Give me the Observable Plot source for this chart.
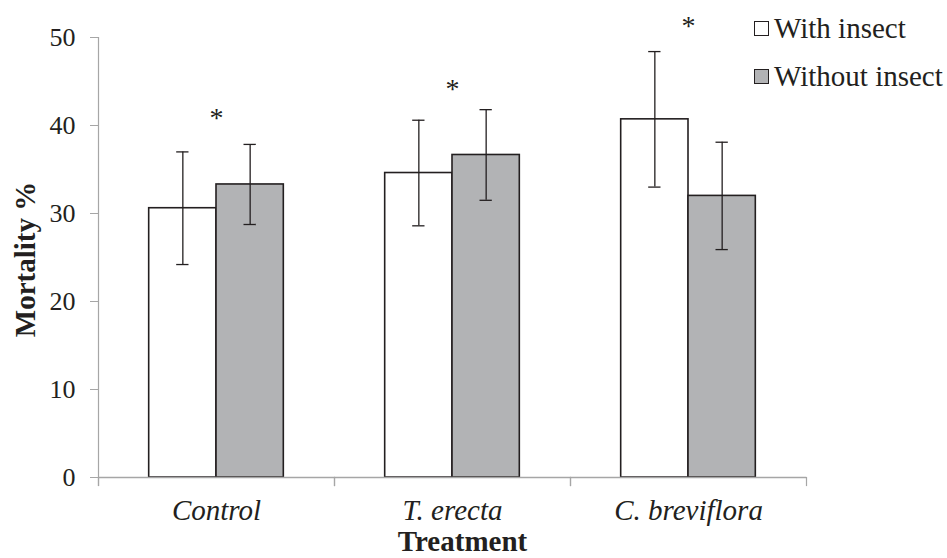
<!DOCTYPE html>
<html>
<head>
<meta charset="utf-8">
<script src="https://cdn.jsdelivr.net/npm/d3@7"></script>
<script src="https://cdn.jsdelivr.net/npm/@observablehq/plot@0.6"></script>
<style>
  html, body { margin: 0; padding: 0; background: white; }
  #wrap { position: relative; width: 947px; height: 558px; font-family: "Liberation Serif", "Times New Roman", serif; color: #231f20; }
  #legend { position: absolute; left: 754px; top: 4px; font-size: 29px; line-height: 48px; }
  .item { display: flex; align-items: center; white-space: nowrap; }
  .sw { width: 13px; height: 13px; border: 1.5px solid #231f20; margin-right: 5px; box-sizing: content-box; }
</style>
</head>
<body>
<div id="wrap"><div id="legend"></div></div>
<script>
// ---- data ----
const treatments = ["Control", "T. erecta", "C. breviflora"];
const groups = ["With insect", "Without insect"];
const groupColors = ["#ffffff", "#b2b3b5"];
const withInsect = [30.6, 34.6, 40.7];
const withoutInsect = [33.3, 36.65, 32.0];
const withErr = [6.4, 6.0, 7.7];
const withoutErr = [4.55, 5.15, 6.1];
const starY = [41.4, 44.7, 51.9];
const yTicks = [0, 10, 20, 30, 40, 50];
const xTitle = "Treatment";
const yTitle = "Mortality %";

const rows = treatments.flatMap((t, i) => [
  {treatment: t, group: groups[0], value: withInsect[i], err: withErr[i]},
  {treatment: t, group: groups[1], value: withoutInsect[i], err: withoutErr[i]}
]);
const stars = treatments.map((t, i) => ({treatment: t, y: starY[i]}));

const ink = "#231f20";
const axisGrey = "#a6a6a6";

const chart = Plot.plot({
  width: 947,
  height: 558,
  marginLeft: 97,
  marginRight: 140,
  marginTop: 37,
  marginBottom: 81,
  style: {fontFamily: "Liberation Serif, Times New Roman, serif", fontSize: "26px", color: ink, background: "white"},
  fx: {domain: treatments, padding: 0, axis: null, label: null},
  x: {domain: groups, paddingInner: 0, paddingOuter: 0.753, round: false, axis: null},
  y: {domain: [0, 50], axis: null},
  color: {domain: groups, range: groupColors},
  marks: [
    Plot.barY(rows, {fx: "treatment", x: "group", y: "value", fill: "group", stroke: ink, strokeWidth: 1.6}),
    Plot.ruleY([0], {stroke: axisGrey, strokeWidth: 1.5}),
    Plot.frame({anchor: "left", stroke: axisGrey, strokeWidth: 1.2, insetBottom: -8, clip: false, fx: ["Control"]}),
    Plot.frame({anchor: "left", stroke: axisGrey, strokeWidth: 1.2, insetTop: 440, insetBottom: -8, clip: false}),
    Plot.frame({anchor: "right", stroke: axisGrey, strokeWidth: 1.2, insetTop: 440, insetBottom: -8, clip: false}),
    Plot.ruleX(rows, {fx: "treatment", x: "group", y1: d => d.value - d.err, y2: d => d.value + d.err, stroke: ink, strokeWidth: 1.3}),
    Plot.tickY(rows, {fx: "treatment", x: "group", y: d => d.value - d.err, stroke: ink, strokeWidth: 1.3, insetLeft: 27.5, insetRight: 27.5}),
    Plot.tickY(rows, {fx: "treatment", x: "group", y: d => d.value + d.err, stroke: ink, strokeWidth: 1.3, insetLeft: 27.5, insetRight: 27.5}),
    Plot.text(stars, {fx: "treatment", y: "y", text: () => "*", fontSize: 28, fill: ink, dy: 5}),
    Plot.axisY(yTicks, {tickSize: 8, tickPadding: 15, stroke: axisGrey, fill: ink, fontSize: 26, label: null}),
    Plot.axisFx({anchor: "bottom", tickSize: 0, tickPadding: 22, fontStyle: "italic", fontSize: 29, fill: ink, label: null}),
    Plot.text([yTitle], {fx: ["Control"], frameAnchor: "left", textAnchor: "middle", lineAnchor: "middle", rotate: -90, dx: -73, dy: 2, fontWeight: "bold", fontSize: 29, fill: ink}),
    Plot.text([xTitle], {fx: ["T. erecta"], frameAnchor: "bottom", textAnchor: "middle", lineAnchor: "middle", dy: 64, dx: 10, fontWeight: "bold", fontSize: 29, fill: ink})
  ]
});
document.getElementById("wrap").prepend(chart);

const legend = document.getElementById("legend");
groups.forEach((g, i) => {
  const item = document.createElement("div");
  item.className = "item";
  const sw = document.createElement("span");
  sw.className = "sw";
  sw.style.background = groupColors[i];
  const label = document.createElement("span");
  label.textContent = g;
  item.append(sw, label);
  legend.append(item);
});
</script>
</body>
</html>
